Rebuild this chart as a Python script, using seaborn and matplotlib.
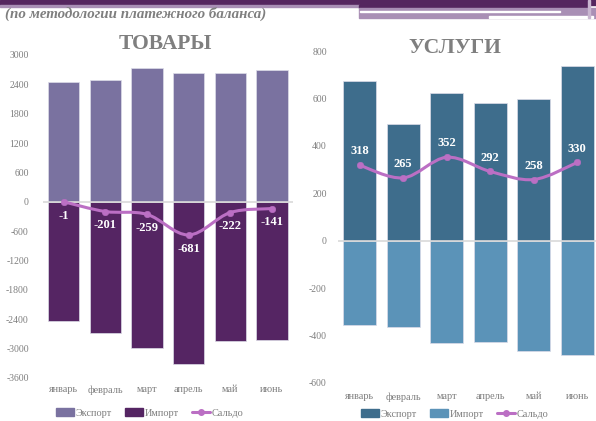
import numpy as np
import pandas as pd
import matplotlib
matplotlib.use("Agg")
import matplotlib.pyplot as plt
import seaborn as sns
from matplotlib.patches import Patch, Rectangle, PathPatch
from matplotlib.lines import Line2D
from matplotlib.path import Path

# ---------------- data ----------------
months = ["январь", "февраль", "март", "апрель", "май", "июнь"]
goods_export = [2440, 2480, 2730, 2640, 2625, 2690]
goods_import = [-2441, -2681, -2989, -3321, -2847, -2831]
goods_saldo = [-1, -201, -259, -681, -222, -141]
serv_export = [672, 494, 623, 580, 597, 738]
serv_import = [-355, -365, -431, -428, -466, -483]
serv_saldo = [318, 265, 352, 292, 258, 330]
goods_ticks = [3000, 2400, 1800, 1200, 600, 0, -600, -1200, -1800, -2400, -3000, -3600]
serv_ticks = [800, 600, 400, 200, 0, -200, -400, -600]
legend_labels = ["Экспорт", "Импорт", "Сальдо"]
subtitle = "(по методологии платежного баланса)"
titles = ["ТОВАРЫ", "УСЛУГИ"]

# ---------------- style ----------------
sns.set_style("white")
plt.rcParams["font.family"] = ["Liberation Serif", "DejaVu Serif"]
GRAY = "#7f7f7f"
LINE = "#bb6fc4"

W, H = 596, 421
fig = plt.figure(figsize=(W / 100, H / 100), dpi=100)

# top decoration band
def rect(x0, y0, x1, y1, color):
    fig.patches.append(Rectangle((x0 / W, 1 - y1 / H), (x1 - x0) / W, (y1 - y0) / H,
                                 transform=fig.transFigure, color=color, zorder=0))
DARK, LIGHT = "#55265f", "#a98fb5"
rect(0, 0, 596, 5, DARK)
rect(0, 5, 359, 7, LIGHT)
rect(359, 5, 588, 8, DARK)
rect(359, 8, 596, 18, LIGHT)
rect(360, 11, 560, 12.3, "white")
rect(489, 16.5, 593, 18, "white")
rect(588, 0, 590, 18, "#c9b6d0")

fig.text(5 / W, 1 - 14 / H, subtitle, fontsize=10.8, style="italic", weight="bold",
         color=GRAY, va="center", ha="left")


def smooth_path(xs, ys):
    pts = np.column_stack([xs, ys]).astype(float)
    n = len(pts)
    verts = [pts[0]]
    codes = [Path.MOVETO]
    for i in range(n - 1):
        p0 = pts[max(i - 1, 0)]
        p1 = pts[i]
        p2 = pts[i + 1]
        p3 = pts[min(i + 2, n - 1)]
        c1 = p1 + (p2 - p0) / 6.0
        c2 = p2 - (p3 - p1) / 6.0
        verts += [c1, c2, p2]
        codes += [Path.CURVE4] * 3
    return Path(verts, codes)


def panel(rect_ax, exp, imp, sal, c_exp, c_imp, ticks, ylim, label_offset, title, title_xy,
          tick_pad, x_pad, leg_xy):
    ax = fig.add_axes(rect_ax)
    df = pd.DataFrame({"month": months, "exp": exp, "imp": imp, "sal": sal})
    sns.barplot(data=df, x="month", y="exp", color=c_exp, width=0.75, ax=ax,
                edgecolor="#dcdce8", linewidth=0.5, saturation=1, zorder=2)
    sns.barplot(data=df, x="month", y="imp", color=c_imp, width=0.75, ax=ax,
                edgecolor="#dcdce8", linewidth=0.5, saturation=1, zorder=2)
    xs = np.arange(len(months))
    ax.add_patch(PathPatch(smooth_path(xs, sal), facecolor="none", edgecolor=LINE,
                           lw=2.2, zorder=4, capstyle="round"))
    sns.scatterplot(x=xs, y=sal, color=LINE, s=22, edgecolor=LINE, ax=ax, zorder=5)
    for x, v in zip(xs, sal):
        ax.annotate(f"{v}", (x, v), xytext=(0, label_offset), textcoords="offset points",
                    ha="center", va="center", color="white", weight="bold", fontsize=9,
                    zorder=6)
    ax.axhline(0, color="#d9d9d9", lw=1.2, zorder=3)
    ax.set_xlim(-0.5, len(months) - 0.5)
    ax.set_ylim(*ylim)
    ax.set_yticks(ticks)
    ax.set_yticklabels([str(t) for t in ticks])
    ax.set_xlabel("")
    ax.set_ylabel("")
    ax.tick_params(axis="y", length=0, pad=tick_pad, labelsize=7, labelcolor=GRAY)
    ax.tick_params(axis="x", length=0, pad=x_pad, labelsize=7.4, labelcolor=GRAY)
    for s in ax.spines.values():
        s.set_visible(False)
    ax.patch.set_alpha(0)
    fig.text(title_xy[0] / W, 1 - title_xy[1] / H, title, fontsize=15.5, weight="bold",
             color=GRAY, ha="center", va="center")
    handles = [Patch(color=c_exp), Patch(color=c_imp),
               Line2D([0], [0], color=LINE, lw=2.2, marker="o", markersize=4)]
    ax.legend(handles, legend_labels, loc="center", ncol=3, frameon=False,
              bbox_to_anchor=(leg_xy[0] / W, 1 - leg_xy[1] / H), bbox_transform=fig.transFigure,
              fontsize=7.4, labelcolor=GRAY, handlelength=1.75, handleheight=0.75,
              handletextpad=0.15, columnspacing=1.3)
    return ax


panel([42.7 / W, 1 - 377.7 / H, 250.1 / W, 322.7 / H], goods_export, goods_import, goods_saldo,
      "#7a72a0", "#552563", goods_ticks, (-3600, 3000), -10, titles[0], (165, 44), 10, 5.5,
      (150, 413))
panel([338 / W, 1 - 383 / H, 261 / W, 332 / H], serv_export, serv_import, serv_saldo,
      "#3e6d8c", "#5b93b8", serv_ticks, (-600, 800), 10, titles[1], (455, 48), 8, 6.5,
      (455, 414))

fig.savefig("out.png", dpi=100)
